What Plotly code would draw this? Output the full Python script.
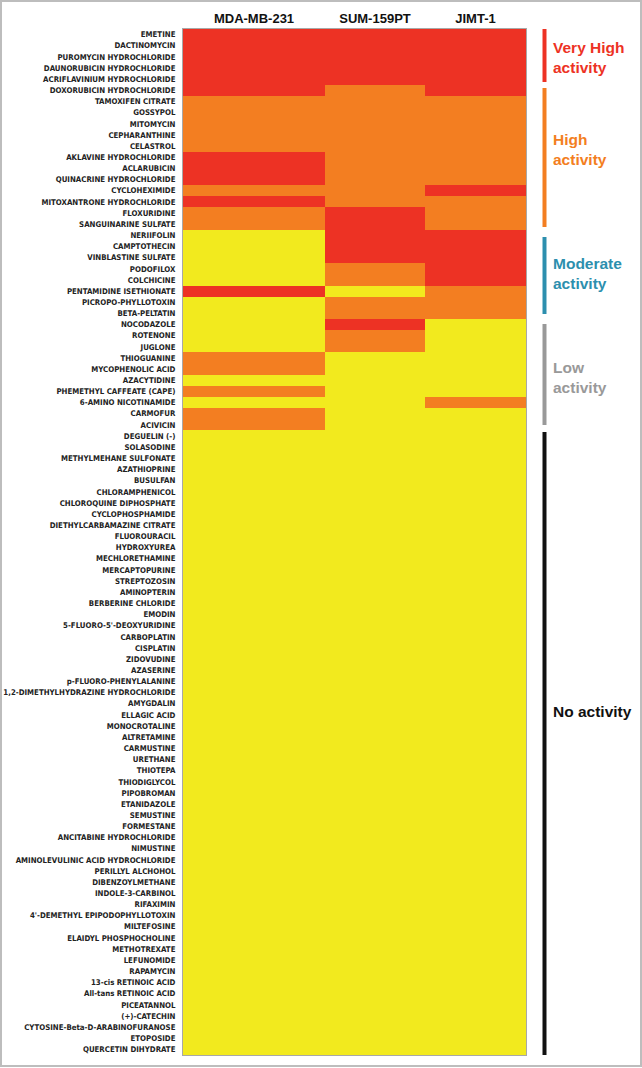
import plotly.graph_objects as go

drugs = [
    "EMETINE", "DACTINOMYCIN", "PUROMYCIN HYDROCHLORIDE", "DAUNORUBICIN HYDROCHLORIDE",
    "ACRIFLAVINIUM HYDROCHLORIDE", "DOXORUBICIN HYDROCHLORIDE", "TAMOXIFEN CITRATE", "GOSSYPOL",
    "MITOMYCIN", "CEPHARANTHINE", "CELASTROL", "AKLAVINE HYDROCHLORIDE", "ACLARUBICIN",
    "QUINACRINE HYDROCHLORIDE", "CYCLOHEXIMIDE", "MITOXANTRONE HYDROCHLORIDE", "FLOXURIDINE",
    "SANGUINARINE SULFATE", "NERIIFOLIN", "CAMPTOTHECIN", "VINBLASTINE SULFATE", "PODOFILOX",
    "COLCHICINE", "PENTAMIDINE ISETHIONATE", "PICROPO-PHYLLOTOXIN", "BETA-PELTATIN", "NOCODAZOLE",
    "ROTENONE", "JUGLONE", "THIOGUANINE", "MYCOPHENOLIC ACID", "AZACYTIDINE",
    "PHEMETHYL CAFFEATE (CAPE)", "6-AMINO NICOTINAMIDE", "CARMOFUR", "ACIVICIN", "DEGUELIN (-)",
    "SOLASODINE", "METHYLMEHANE SULFONATE", "AZATHIOPRINE", "BUSULFAN", "CHLORAMPHENICOL",
    "CHLOROQUINE DIPHOSPHATE", "CYCLOPHOSPHAMIDE", "DIETHYLCARBAMAZINE CITRATE", "FLUOROURACIL",
    "HYDROXYUREA", "MECHLORETHAMINE", "MERCAPTOPURINE", "STREPTOZOSIN", "AMINOPTERIN",
    "BERBERINE CHLORIDE", "EMODIN", "5-FLUORO-5'-DEOXYURIDINE", "CARBOPLATIN", "CISPLATIN",
    "ZIDOVUDINE", "AZASERINE", "p-FLUORO-PHENYLALANINE", "1,2-DIMETHYLHYDRAZINE HYDROCHLORIDE",
    "AMYGDALIN", "ELLAGIC ACID", "MONOCROTALINE", "ALTRETAMINE", "CARMUSTINE", "URETHANE",
    "THIOTEPA", "THIODIGLYCOL", "PIPOBROMAN", "ETANIDAZOLE", "SEMUSTINE", "FORMESTANE",
    "ANCITABINE HYDROCHLORIDE", "NIMUSTINE", "AMINOLEVULINIC ACID HYDROCHLORIDE",
    "PERILLYL ALCHOHOL", "DIBENZOYLMETHANE", "INDOLE-3-CARBINOL", "RIFAXIMIN",
    "4'-DEMETHYL EPIPODOPHYLLOTOXIN", "MILTEFOSINE", "ELAIDYL PHOSPHOCHOLINE", "METHOTREXATE",
    "LEFUNOMIDE", "RAPAMYCIN", "13-cis RETINOIC ACID", "All-tans RETINOIC ACID", "PICEATANNOL",
    "(+)-CATECHIN", "CYTOSINE-Beta-D-ARABINOFURANOSE", "ETOPOSIDE", "QUERCETIN DIHYDRATE",
]

cell_lines = ["MDA-MB-231", "SUM-159PT", "JIMT-1"]

# activity level: 2 = very high (red), 1 = high (orange), 0 = low / none (yellow)
mda_mb_231 = [
    2, 2, 2, 2, 2, 2, 1, 1, 1, 1,
    1, 2, 2, 2, 1, 2, 1, 1, 0, 0,
    0, 0, 0, 2, 0, 0, 0, 0, 0, 1,
    1, 0, 1, 0, 1, 1, 0, 0, 0, 0,
    0, 0, 0, 0, 0, 0, 0, 0, 0, 0,
    0, 0, 0, 0, 0, 0, 0, 0, 0, 0,
    0, 0, 0, 0, 0, 0, 0, 0, 0, 0,
    0, 0, 0, 0, 0, 0, 0, 0, 0, 0,
    0, 0, 0, 0, 0, 0, 0, 0, 0, 0,
    0, 0,
]
sum_159pt = [
    2, 2, 2, 2, 2, 1, 1, 1, 1, 1,
    1, 1, 1, 1, 1, 1, 2, 2, 2, 2,
    2, 1, 1, 0, 1, 1, 2, 1, 1, 0,
    0, 0, 0, 0, 0, 0, 0, 0, 0, 0,
    0, 0, 0, 0, 0, 0, 0, 0, 0, 0,
    0, 0, 0, 0, 0, 0, 0, 0, 0, 0,
    0, 0, 0, 0, 0, 0, 0, 0, 0, 0,
    0, 0, 0, 0, 0, 0, 0, 0, 0, 0,
    0, 0, 0, 0, 0, 0, 0, 0, 0, 0,
    0, 0,
]
jimt_1 = [
    2, 2, 2, 2, 2, 2, 1, 1, 1, 1,
    1, 1, 1, 1, 2, 1, 1, 1, 2, 2,
    2, 2, 2, 1, 1, 1, 0, 0, 0, 0,
    0, 0, 0, 1, 0, 0, 0, 0, 0, 0,
    0, 0, 0, 0, 0, 0, 0, 0, 0, 0,
    0, 0, 0, 0, 0, 0, 0, 0, 0, 0,
    0, 0, 0, 0, 0, 0, 0, 0, 0, 0,
    0, 0, 0, 0, 0, 0, 0, 0, 0, 0,
    0, 0, 0, 0, 0, 0, 0, 0, 0, 0,
    0, 0,
]

group_labels = ["Very High<br>activity", "High<br>activity", "Moderate<br>activity",
                "Low<br>activity", "No activity"]

# ---------------- layout constants ----------------
W, H = 642, 1068
PL, PR, PT, PB = 183, 526, 29, 1055  # plot area in pixels
col_edges = [0, 1.42, 2.42, 3.43]     # MDA column is wider
RED, ORANGE, YELLOW = "#ED3224", "#F37E21", "#F2EA1E"
TEAL, GRAY = "#2C8FAE", "#999999"

def px_x(p):
    return (p - PL) / (PR - PL)

def px_y(p):
    return (PB - p) / (PB - PT)

z = [[a, b, c] for a, b, c in zip(mda_mb_231, sum_159pt, jimt_1)]
rows = list(range(len(drugs)))

fig = go.Figure(go.Heatmap(
    z=z, x=col_edges, y=rows,
    zmin=0, zmax=2,
    colorscale=[[0, YELLOW], [1/3, YELLOW], [1/3, ORANGE], [2/3, ORANGE], [2/3, RED], [1, RED]],
    showscale=False, hoverinfo="skip",
))

centers = [(col_edges[i] + col_edges[i + 1]) / 2 for i in range(3)]

fig.update_layout(
    width=W, height=H,
    margin=dict(l=PL, r=W - PR, t=PT, b=H - PB, pad=0, autoexpand=False),
    paper_bgcolor="white", plot_bgcolor="white",
    xaxis=dict(side="top", tickvals=centers, ticktext=cell_lines, range=[col_edges[0], col_edges[-1]],
               showgrid=False, zeroline=False, ticks="", showline=True, linecolor="#a8a8a8",
               linewidth=1, mirror=True, automargin=False,
               tickfont=dict(family="Liberation Sans, Arial, sans-serif", size=13, color="#111",
                             weight="bold")),
    yaxis=dict(tickvals=rows, ticktext=drugs, range=[len(drugs) - 0.5, -0.5],
               showgrid=False, zeroline=False, ticks="", showline=True, linecolor="#a8a8a8",
               linewidth=1, mirror=True, ticklabelstandoff=5, automargin=False,
               tickfont=dict(family="Liberation Sans Narrow, DejaVu Sans Condensed, Arial Narrow, sans-serif",
                             size=7.8, color="#222", weight="bold")),
    font=dict(family="Liberation Sans, Arial, sans-serif"),
)

# side bars and labels
groups = [
    (29, 82, RED, 57),
    (88, 227, ORANGE, 149),
    (237, 314, TEAL, 273),
    (324, 425, GRAY, 377),
    (432, 1055, "#111111", 711),
]
bar_x = 544.5
for (y0, y1, col, ty), lab in zip(groups, group_labels):
    fig.add_shape(type="rect", xref="paper", yref="paper",
                  x0=px_x(bar_x - 2), x1=px_x(bar_x + 2), y0=px_y(y1), y1=px_y(y0),
                  fillcolor=col, line=dict(width=0))
    fig.add_annotation(xref="paper", yref="paper", x=px_x(551), y=px_y(ty),
                       xanchor="left", yanchor="middle", align="left", showarrow=False,
                       text=lab, font=dict(size=15.5, color=col, weight="bold",
                                           family="Liberation Sans, Arial, sans-serif"))

# outer frame
fig.add_shape(type="rect", xref="paper", yref="paper",
              x0=px_x(1), x1=px_x(W - 1), y0=px_y(H - 2), y1=px_y(1),
              line=dict(color="#bdbdbd", width=2), fillcolor="rgba(0,0,0,0)", layer="above")

fig.write_html("out.html", config={"displayModeBar": False},
               post_script="document.body.style.margin='0';document.body.style.overflow='hidden';")
